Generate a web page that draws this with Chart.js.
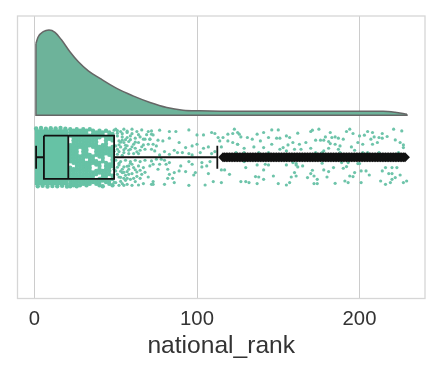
<!DOCTYPE html>
<html><head><meta charset="utf-8">
<style>html,body{margin:0;padding:0;background:#fff}canvas{display:block}</style>
<script src="https://cdn.jsdelivr.net/npm/chart.js@4"></script>
</head><body><canvas id="c" width="446" height="369"></canvas>
<script>
const tickValues = [0, 100, 200];
const axisLabel = 'national_rank';
const kdeCurve = [[0.9,1.137],[2.3,1.203],[5.4,1.253],[8.9,1.27],[12.6,1.247],[16.7,1.17],[21.8,1.053],[27,0.953],[33.1,0.863],[40.3,0.787],[50.6,0.687],[60.6,0.613],[71.1,0.547],[81.4,0.497],[91.4,0.47],[101.8,0.463],[114.2,0.46],[163.4,0.46],[214.5,0.46],[221.8,0.45],[229.2,0.43]];
const kdeBase = 0.42;
const boxStats = {min:1, q1:5.8, median:20.8, q3:49, max:112.5};
const boxHalf = 0.215, capHalf = 0.115;
const outlierRanks = [116,117,118,119,120,121,122,123,124,125,126,127,128,129,130,131,132,133,134,135,136,137,138,139,140,141,142,143,144,145,146,147,148,149,150,151,152,153,154,155,156,157,158,159,160,161,162,163,164,165,166,167,168,169,170,171,172,173,174,175,176,177,178,179,180,181,182,183,184,185,186,187,188,189,190,191,192,193,194,195,196,197,198,199,200,201,202,203,204,205,206,207,208,209,210,211,212,213,214,215,216,217,218,219,220,221,222,223,224,225,226,227,228];
const crowdedRanks = [0, 21];
const crowdedHalf = 0.28;
const denseColumns = [
[22,[.28,.248,.216,.12,.088,.056,.024,-.008,-.04,-.104,-.136,-.168,-.2,-.232,-.264,-.29]],
[24,[.264,.232,.2,.168,.136,.104,.072,.04,.008,-.024,-.056,-.12,-.152,-.184,-.216,-.248,-.28]],
[26,[.28,.248,.216,.184,.152,.12,.088,.056,.024,-.008,-.04,-.072,-.104,-.136,-.168,-.2,-.232,-.264,-.29]],
[28,[.264,.232,.2,.168,.136,.104,.008,-.024,-.056,-.088,-.12,-.152,-.184,-.216,-.248,-.28]],
[30,[.28,.248,.216,.184,.152,.12,.088,.056,.024,-.008,-.04,-.072,-.104,-.136,-.168,-.2,-.232,-.264]],
[32,[.264,.232,.2,.168,.136,.104,.072,.04,.008,-.056,-.088,-.12,-.152,-.184,-.216,-.248,-.28]],
[34,[.28,.216,.184,.152,.12,.024,-.008,-.04,-.072,-.104,-.136,-.168,-.2,-.232,-.264]],
[36,[.264,.232,.2,.168,.136,.104,.008,-.024,-.056,-.152,-.184,-.216,-.248]],
[38,[.248,.216,.184,.152,.12,.088,.056,.024,-.04,-.072,-.136,-.168,-.232,-.264]],
[40,[.264,.232,.2,.104,.072,.04,.008,-.056,-.088,-.12,-.152,-.216,-.248,-.28]],
[42,[.248,.216,.12,.088,.056,.024,-.008,-.04,-.136,-.168,-.2,-.232,-.29]],
[44,[.264,.2,.168,.136,.104,.072,.04,-.056,-.088,-.12,-.152,-.184,-.216,-.248]],
[46,[.248,.216,.184,.088,.056,.024,-.072,-.104,-.136,-.168,-.232,-.264]],
[48,[.232,.2,.168,.104,.072,.04,.008,-.024,-.056,-.088,-.184,-.216,-.28]]
];
const edgeDots = [[1,.288],[4,.292],[7,.285],[10,.29],[13,.288],[16,.292],[19,.285],[2,-.29],[5,-.285],[8,-.292],[11,-.288],[14,-.29],[17,-.285],[20,-.292]];
const sparseNear = [[50,.28],[53,.257],[55,.28],[57,.247],[60,.28],[63,.257],[66,.273],[70,.257],[72,.23],[51,.213],[54,.203],[57,.197],[59,.213],[62,.19],[65,.203],[68,.18],[71,.18],[52,.163],[55,.147],[58,.157],[61,.13],[64,.147],[67,.123],[70,.13],[50,.113],[53,.103],[56,.09],[59,.08],[62,.09],[65,.07],[68,.08],[52,.057],[55,.047],[58,.037],[61,.037],[64,.037],[50,-.03],[53,-.043],[56,-.03],[59,-.043],[62,-.03],[65,-.043],[68,-.03],[52,-.077],[55,-.097],[58,-.087],[61,-.103],[64,-.087],[67,-.103],[71,-.087],[50,-.137],[54,-.153],[57,-.143],[60,-.163],[63,-.147],[66,-.17],[52,-.197],[55,-.21],[59,-.22],[62,-.243],[65,-.21],[70,-.197],[50,-.253],[54,-.263],[57,-.27],[64,-.277],[67,-.263],[60,-.28],[73,-.27],[51,.24],[54,.17],[56,.12],[58,.07],[51,.08],[53,.15],[57,.26],[52,-.06],[54,-.12],[56,-.18],[58,-.12],[51,-.17],[53,-.24],[56,-.23],[59,-.06],
[51,.265],[52,.125],[54,.235],[55,.075],[56,.175],[57,.115],[59,.175],[60,.235],[60,.105],[62,.15],[63,.055],[64,.225],[66,.105],[67,.18],[69,.225],[51,.03],[54,.02],[51,-.1],[53,-.14],[53,-.2],[55,-.15],[57,-.09],[57,-.21],[58,-.17],[60,-.07],[61,-.21],[62,-.125],[63,-.19],[65,-.13],[68,-.15],[52,-.28],[55,-.28],[49,-.25],[49,.27],[49,.06],[49,-.12]];
const sparseMid = [[72,.263],[77,.27],[83,.257],[87,.257],[95,.273],[73,.223],[71,.18],[76,.17],[79,.163],[83,.19],[73,.13],[75,.113],[72,.08],[74,.063],[80,.057],[86,.07],[89,.147],[93,.097],[97,.113],[100,.13],[104,.09],[107,.103],[111,.057],[109,.037],[102,.047],[95,.037],[97,.023],[88,.047],[91,.047],[83,.03],[77,.023],[100,.223],[104,.223],[109,.247],[111,.237],[113,.197],[116,.197],[119,.23],[122,.237],[125,.247],[114,.163],[119,.163],[122,.147],[125,.13],[115,.103],[72,-.037],[75,-.02],[78,-.02],[80,-.03],[73,-.07],[77,-.07],[81,-.07],[83,-.053],[90,-.087],[95,-.043],[97,-.07],[103,-.053],[108,-.043],[106,-.087],[103,-.097],[76,-.12],[82,-.12],[89,-.137],[93,-.143],[86,-.153],[83,-.17],[98,-.177],[99,-.153],[85,-.21],[82,-.21],[73,-.243],[72,-.27],[80,-.27],[86,-.253],[95,-.28],[105,-.277],[110,-.243],[115,-.253],[107,-.163],[115,-.127],[117,-.127],[120,-.17]];
const sparseUpper = [[123,.28],[126,.23],[127,.203],[131,.197],[134,.18],[137,.23],[141,.247],[146,.273],[150,.273],[144,.197],[139,.163],[149,.19],[151,.19],[155,.213],[157,.197],[162,.24],[170,.257],[171,.27],[175,.28],[163,.13],[167,.147],[173,.17],[178,.17],[159,.147],[156,.123],[153,.097],[151,.08],[146,.13],[141,.097],[135,.103],[129,.09],[125,.13],[164,.08],[170,.09],[160,.08],[155,.063],[144,.047],[138,.047],[129,.047],[124,.047],[178,.063],[173,.047],[129,-.043],[130,-.103],[137,-.077],[142,-.07],[144,-.077],[141,-.127],[147,-.187],[136,-.193],[138,-.197],[141,-.22],[127,-.243],[130,-.243],[132,-.253],[137,-.263],[150,-.263],[155,-.277],[155,-.077],[159,-.053],[161,-.077],[162,-.097],[165,-.087],[160,-.153],[158,-.197],[161,-.187],[168,-.203],[170,-.163],[172,-.187],[174,-.22],[172,-.263],[174,-.263],[171,-.13],[177,-.06],[157,-.253],[161,-.063]];
const sparseTail = [[179,.203],[182,.247],[183,.197],[185,.203],[187,.19],[190,.18],[192,.257],[194,.28],[196,.237],[176,.17],[181,.157],[182,.137],[185,.13],[188,.113],[187,.08],[181,.09],[195,.103],[197,.07],[199,.147],[200,.213],[203,.22],[205,.257],[208,.247],[207,.18],[209,.203],[212,.197],[214,.237],[217,.207],[221,.28],[226,.263],[222,.173],[225,.147],[227,.123],[227,.097],[224,.047],[212,.047],[202,.13],[208,.13],[211,.147],[214,.19],[202,.047],[205,.047],[188,.047],[177,.047],[178,-.127],[181,-.143],[184,-.103],[190,-.11],[192,-.093],[189,-.053],[193,-.053],[199,-.063],[200,-.063],[201,-.137],[204,-.137],[206,-.177],[214,-.137],[216,-.103],[220,-.103],[223,-.103],[218,-.163],[220,-.163],[225,-.177],[222,-.203],[220,-.22],[219,-.253],[216,-.27],[213,-.237],[229,-.237],[227,-.253],[180,-.197],[194,-.187],[196,-.193],[197,-.153],[185,-.26],[191,-.237],[193,-.253],[201,-.253]];

const TEAL = '#66c2a5', LIGHT = '#6ec4aa', FILLC = '#6db39a', INK = '#111111', EDGE = '#666666';
const pt = p => ({x:p[0], y:p[1]});
const denseDots = denseColumns.flatMap(c => c[1].map(j => ({x:c[0], y:j}))).concat(edgeDots.map(pt));
const openDots = sparseNear.map(pt).concat(sparseMid.map(pt), sparseUpper.map(pt), sparseTail.map(pt));
const first = kdeCurve[0], last = kdeCurve[kdeCurve.length-1];
const ink = (data, w) => ({data, showLine:true, borderColor:INK, borderWidth:w||1.8, pointRadius:0, fill:false, tension:0, order:2});
const b = boxStats;

const frame = {id:'frame', beforeDatasetsDraw(ch){
  const a = ch.chartArea, x = ch.ctx;
  x.save(); x.strokeStyle='#d6d6d6'; x.lineWidth=1.3;
  x.strokeRect(a.left,a.top,a.right-a.left,a.bottom-a.top); x.restore();
}};

new Chart(document.getElementById('c'), {
  type:'scatter',
  plugins:[frame],
  data:{datasets:[
    {data:kdeCurve.map(pt), showLine:true, cubicInterpolationMode:'monotone', borderColor:EDGE, borderWidth:1.5, backgroundColor:FILLC, fill:{value:kdeBase}, pointRadius:0, order:6},
    {data:[{x:first[0],y:first[1]},{x:first[0],y:kdeBase},{x:last[0],y:kdeBase},{x:last[0],y:last[1]}], showLine:true, borderColor:EDGE, borderWidth:1.5, pointRadius:0, fill:false, tension:0, order:5},
    {data:[{x:crowdedRanks[0],y:crowdedHalf},{x:crowdedRanks[1],y:crowdedHalf}], showLine:true, borderWidth:0, borderColor:'transparent', backgroundColor:TEAL, fill:{value:-crowdedHalf}, pointRadius:0, order:4},
    {data:denseDots, backgroundColor:TEAL, borderWidth:0, pointRadius:2.2, order:3},
    {data:openDots, backgroundColor:LIGHT, borderWidth:0, pointRadius:1.6, order:3},
    ink([{x:b.q1,y:boxHalf},{x:b.q3,y:boxHalf},{x:b.q3,y:-boxHalf},{x:b.q1,y:-boxHalf},{x:b.q1,y:boxHalf}]),
    ink([{x:b.median,y:boxHalf},{x:b.median,y:-boxHalf}]),
    ink([{x:b.min,y:0},{x:b.q1,y:0}]),
    ink([{x:b.q3,y:0},{x:b.max,y:0}]),
    ink([{x:b.min,y:capHalf},{x:b.min,y:-capHalf}]),
    ink([{x:b.max,y:capHalf},{x:b.max,y:-capHalf}]),
    {data:outlierRanks.map(r=>({x:r,y:0})), pointStyle:'rectRot', pointRadius:4.9, backgroundColor:INK, borderWidth:0, order:1}
  ]},
  options:{
    responsive:false, animation:false, devicePixelRatio:1,
    layout:{padding:{left:17.5,right:21,top:16,bottom:0}},
    plugins:{legend:{display:false},tooltip:{enabled:false}},
    scales:{
      x:{type:'linear', min:-10.46, max:240.3,
        afterFit(s){s.height=70.5;},
        afterBuildTicks(s){s.ticks=tickValues.map(v=>({value:v}));},
        grid:{color:'#cccccc',lineWidth:1,drawTicks:false},
        border:{display:false},
        ticks:{color:'#333333',font:{family:'"Liberation Sans"',size:20.3},padding:9,maxRotation:0,callback:v=>String(v)},
        title:{display:true,text:axisLabel,color:'#333333',font:{family:'"Liberation Sans"',size:24.6},padding:{top:0,bottom:8}}
      },
      y:{display:false,min:-1.41,max:1.41}
    }
  }
});
</script></body></html>
